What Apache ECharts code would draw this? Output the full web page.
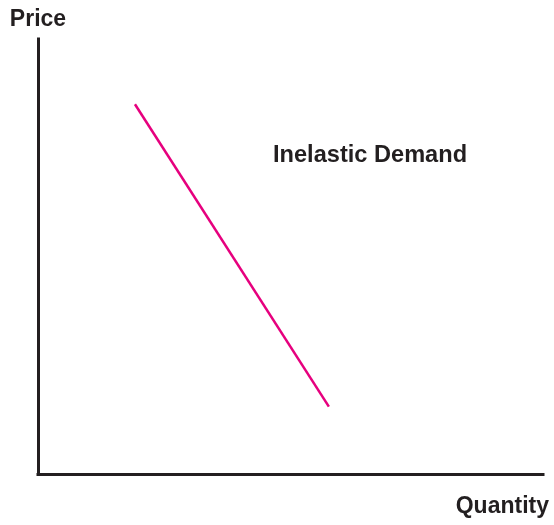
<!DOCTYPE html>
<html>
<head>
<meta charset="utf-8">
<script src="https://cdn.jsdelivr.net/npm/echarts@6/dist/echarts.min.js"></script>
<style>html,body{margin:0;padding:0;background:#fff;}#c{width:554px;height:525px;}</style>
</head>
<body>
<div id="c"></div>
<script>
// Demand curve endpoints (quantity, price) in axis units 0..10
const demandQuantity = [1.92, 5.76];
const demandPrice = [8.5, 1.55];
const xTitle = 'Quantity';
const yTitle = 'Price';
const curveLabel = 'Inelastic Demand';

const demandData = demandQuantity.map((q, i) => [q, demandPrice[i]]);
const axisColor = '#231f20';
const font = '"Liberation Sans", Arial, Helvetica, sans-serif';

const chart = echarts.init(document.getElementById('c'));
chart.setOption({
  animation: false,
  grid: { left: 38, right: 11, top: 39, bottom: 51 },
  xAxis: {
    type: 'value', min: 0, max: 10,
    axisLine: { show: true, onZero: false, lineStyle: { color: axisColor, width: 3, cap: 'square' } },
    axisTick: { show: false }, axisLabel: { show: false }, splitLine: { show: false }
  },
  yAxis: {
    type: 'value', min: 0, max: 10,
    name: yTitle, nameLocation: 'end', nameGap: 8,
    nameTextStyle: { color: axisColor, fontSize: 23, fontWeight: 'bold', fontFamily: font, align: 'center' },
    axisLine: { show: true, onZero: false, lineStyle: { color: axisColor, width: 3, cap: 'square' } },
    axisTick: { show: false }, axisLabel: { show: false }, splitLine: { show: false }
  },
  graphic: [
    { type: 'text', right: 5, top: 495,
      style: { text: xTitle, fill: axisColor, font: 'bold 23px ' + font } },
    { type: 'text', left: 273, top: 143,
      style: { text: curveLabel, fill: axisColor, font: 'bold 23.6px ' + font } }
  ],
  series: [{
    type: 'line', data: demandData, symbol: 'none',
    lineStyle: { color: '#e6007e', width: 2.5 }
  }]
});
</script>
</body>
</html>
